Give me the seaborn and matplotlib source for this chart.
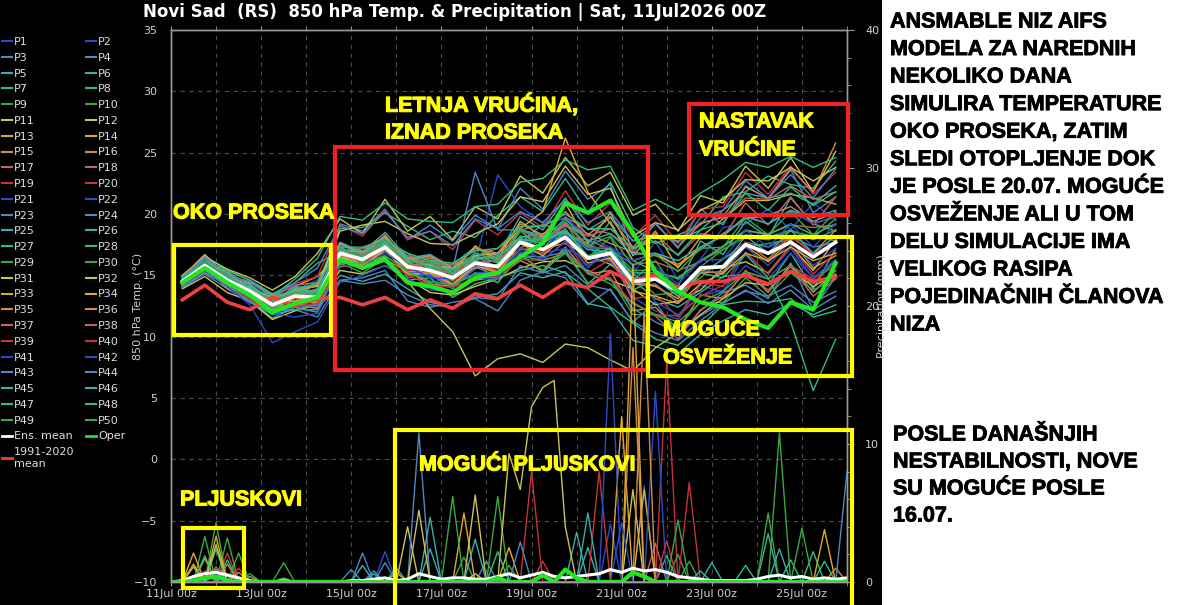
import numpy as np
import pandas as pd
import matplotlib
matplotlib.use("Agg")
import matplotlib.pyplot as plt
import matplotlib.dates as mdates
import matplotlib.patheffects as pe
from matplotlib.lines import Line2D
from matplotlib.patches import Rectangle
from matplotlib.ticker import MultipleLocator
import seaborn as sns

TITLE = "Novi Sad  (RS)  850 hPa Temp. & Precipitation | Sat, 11Jul2026 00Z"

# 850 hPa temperature every 12 h (11Jul 06z .. 25Jul 18z)
temp_times = pd.date_range("2026-07-11 06:00", periods=30, freq="12h")
# precipitation every 6 h (11Jul 00z .. 26Jul 00z)
precip_times = pd.date_range("2026-07-11 00:00", periods=61, freq="6h")

ens_mean = [14.5, 15.8, 14.6, 13.7, 12.6, 13.3, 13.2,
            16.8, 16.3, 17.3, 15.7, 15.4, 14.8, 16.0, 15.7,
            17.7, 17.1, 18.1, 16.4, 16.8,
            14.5, 14.7, 13.7, 15.6, 15.7, 17.5, 16.8, 17.7, 16.5, 17.7]
oper = [14.4, 15.6, 14.4, 13.4, 12.0, 12.7, 13.2,
        16.3, 15.6, 16.3, 14.4, 14.1, 13.6, 14.8, 15.2,
        16.5, 17.6, 20.9, 20.1, 21.1,
        18.5, 15.3, 13.7, 12.8, 12.4, 11.4, 10.7, 12.8, 12.2, 16.0]
clim_mean = [13.0, 14.2, 12.8, 12.2, 13.2, 12.5, 13.1,
             13.2, 12.6, 13.2, 12.2, 13.0, 12.3, 13.5, 13.1,
             14.2, 13.2, 14.4, 14.0, 15.3,
             14.5, 15.0, 14.0, 14.5, 14.5, 15.0, 14.3, 15.3, 14.5, 14.9]

# ensemble members P1..P50 (850 hPa temp, degC)
members_temp = [
    [14.9, 16.3, 14.8, 13.2, 11.8, 12.6, 12.4, 16.4, 16.9, 17.6, 15.2, 16.1, 14.2, 15.5, 16.8, 18.9, 16.5, 19.8, 17.9, 16.2, 15.1, 17.8, 14.6, 16.3, 18.9, 19.2, 20.4, 18.7, 20.9, 19.5],
    [14.1, 15.4, 14.2, 13.9, 12.9, 13.8, 14.6, 17.5, 15.8, 16.9, 16.2, 14.3, 15.1, 16.9, 15.2, 17.2, 18.4, 17.9, 15.6, 17.3, 13.2, 12.1, 11.4, 14.2, 13.6, 16.8, 15.1, 17.2, 14.8, 16.1],
    [14.6, 16.1, 15.3, 14.2, 12.4, 13.1, 13.5, 19.2, 18.6, 20.4, 17.9, 19.1, 17.8, 19.9, 18.8, 22.1, 20.4, 23.5, 21.2, 22.4, 16.8, 19.3, 17.2, 20.4, 19.1, 22.3, 21.2, 23.6, 20.1, 21.4],
    [14.0, 15.1, 13.9, 12.8, 12.1, 12.2, 11.6, 14.6, 14.8, 15.4, 12.9, 12.4, 12.8, 13.1, 12.1, 14.6, 15.3, 14.8, 12.6, 13.9, 11.2, 12.8, 10.1, 12.1, 13.6, 14.2, 13.1, 16.0, 12.2, 14.9],
    [14.8, 16.6, 15.4, 14.6, 13.5, 14.4, 16.0, 16.9, 16.1, 17.4, 16.8, 15.4, 15.9, 17.3, 16.1, 17.6, 19.2, 18.4, 17.1, 19.4, 16.2, 15.3, 14.1, 17.8, 16.7, 19.4, 18.1, 21.3, 19.2, 18.6],
    [14.3, 15.5, 14.6, 13.3, 12.6, 13.9, 13.1, 17.3, 16.4, 18.1, 15.1, 15.6, 14.2, 15.2, 14.4, 16.8, 15.2, 17.1, 14.3, 15.9, 14.6, 13.1, 12.4, 13.6, 14.9, 15.1, 14.2, 16.8, 13.9, 17.2],
    [14.5, 15.6, 14.3, 14.1, 12.2, 13.4, 14.3, 18.8, 18.9, 20.1, 19.0, 17.9, 18.6, 18.1, 19.9, 21.4, 20.2, 22.9, 20.1, 22.6, 18.9, 17.6, 18.3, 19.1, 21.4, 21.8, 23.1, 22.4, 22.1, 24.3],
    [14.6, 16.0, 15.2, 13.0, 11.5, 12.4, 12.0, 15.9, 16.3, 16.1, 14.6, 14.8, 13.2, 14.3, 14.8, 15.4, 15.8, 15.2, 13.9, 12.4, 11.1, 9.8, 9.3, 10.8, 12.6, 12.9, 12.8, 13.1, 11.6, 12.1],
    [14.7, 16.2, 14.5, 14.0, 13.1, 12.9, 13.9, 16.6, 16.9, 17.2, 16.5, 15.2, 15.9, 16.2, 15.8, 18.6, 17.1, 19.3, 16.4, 18.1, 14.6, 16.2, 13.5, 15.7, 17.1, 18.1, 17.9, 18.6, 18.2, 17.8],
    [14.2, 15.7, 14.1, 13.6, 12.0, 13.6, 12.7, 16.1, 15.6, 17.5, 14.8, 15.4, 13.9, 16.1, 15.1, 17.2, 18.2, 18.4, 17.6, 16.4, 15.2, 13.4, 13.6, 14.8, 16.4, 17.3, 17.6, 17.9, 18.1, 19.6],
    [15.0, 16.5, 15.5, 14.8, 13.8, 14.9, 16.8, 19.6, 18.4, 21.2, 18.6, 19.8, 17.9, 20.6, 19.6, 23.1, 21.7, 24.6, 22.3, 23.4, 19.9, 20.8, 18.6, 21.5, 20.9, 23.9, 22.1, 24.6, 21.8, 25.1],
    [13.9, 14.9, 13.6, 12.9, 11.4, 12.1, 12.6, 15.4, 15.1, 15.8, 14.7, 13.6, 13.4, 14.1, 14.7, 15.6, 16.1, 16.2, 15.4, 14.6, 13.9, 12.6, 12.9, 13.8, 15.6, 16.1, 15.2, 17.4, 15.4, 17.9],
    [14.9, 16.7, 14.9, 14.4, 13.4, 14.1, 14.9, 16.8, 17.2, 18.1, 16.1, 16.6, 15.2, 17.4, 16.3, 19.4, 18.1, 20.9, 17.6, 20.1, 16.6, 18.6, 15.6, 18.1, 19.6, 21.1, 21.1, 21.6, 21.3, 20.8],
    [14.3, 15.4, 14.7, 13.1, 12.7, 12.9, 13.4, 16.9, 15.9, 17.0, 15.9, 14.9, 14.9, 15.6, 15.9, 17.1, 17.2, 17.6, 16.6, 15.9, 14.4, 14.1, 13.1, 15.4, 15.1, 17.4, 16.1, 17.9, 15.6, 16.6],
    [14.6, 16.2, 14.6, 14.3, 12.6, 13.9, 14.2, 17.6, 16.6, 18.3, 15.9, 16.4, 15.0, 16.2, 16.8, 18.1, 18.4, 19.1, 18.4, 17.6, 16.9, 16.6, 15.9, 17.1, 18.4, 19.6, 19.9, 20.6, 19.4, 20.1],
    [14.2, 15.8, 13.9, 13.5, 11.9, 12.6, 12.3, 15.7, 15.9, 16.3, 15.3, 14.3, 14.1, 14.6, 14.9, 16.2, 15.4, 17.3, 15.1, 15.4, 12.1, 12.4, 10.6, 13.4, 13.1, 15.4, 13.6, 15.9, 13.6, 15.4],
    [14.5, 15.8, 14.9, 13.6, 13.0, 13.2, 13.7, 17.1, 16.1, 17.7, 15.5, 15.9, 14.7, 16.5, 15.7, 17.8, 17.8, 18.2, 17.9, 17.1, 15.9, 16.1, 15.4, 16.1, 17.4, 18.6, 18.4, 19.1, 18.9, 19.1],
    [14.8, 16.0, 15.3, 13.9, 13.2, 14.2, 14.4, 17.0, 17.2, 17.6, 16.6, 16.0, 15.9, 16.6, 17.2, 18.7, 19.1, 19.7, 18.8, 18.4, 17.1, 18.4, 16.6, 18.4, 18.1, 20.9, 19.1, 21.4, 19.1, 21.4],
    [14.4, 15.6, 14.7, 13.3, 12.2, 13.4, 12.9, 16.8, 15.8, 17.4, 15.1, 15.3, 14.0, 15.9, 14.8, 17.3, 16.2, 17.8, 15.2, 16.3, 13.1, 13.4, 11.6, 14.4, 14.1, 16.9, 15.1, 17.4, 15.1, 16.9],
    [14.7, 16.4, 14.9, 14.5, 13.1, 14.3, 14.9, 19.1, 18.2, 20.3, 17.9, 18.6, 17.1, 19.5, 18.3, 20.1, 18.9, 21.9, 19.1, 20.9, 18.1, 19.9, 17.6, 20.4, 20.6, 23.4, 21.6, 23.9, 21.6, 23.4],
    [14.5, 16.1, 14.4, 13.8, 12.4, 13.7, 13.3, 17.2, 16.3, 17.0, 15.7, 14.9, 15.1, 16.0, 23.2, 20.6, 19.3, 19.6, 18.3, 17.2, 15.8, 12.8, 11.8, 13.3, 13.8, 15.8, 14.7, 16.8, 14.8, 16.3],
    [14.1, 15.6, 14.6, 13.1, 12.2, 12.4, 12.5, 16.0, 16.0, 16.6, 15.4, 14.5, 14.3, 15.2, 15.3, 16.9, 16.8, 17.2, 16.3, 16.1, 14.2, 14.3, 12.8, 15.3, 15.2, 17.3, 15.8, 17.8, 15.8, 17.2],
    [14.7, 15.8, 14.9, 14.1, 12.8, 14.1, 13.6, 17.5, 16.7, 18.2, 16.2, 16.5, 15.5, 23.4, 18.7, 18.7, 18.3, 18.6, 17.3, 16.2, 14.3, 14.7, 13.8, 15.2, 16.3, 17.7, 17.3, 18.2, 17.3, 17.7],
    [14.3, 15.9, 14.2, 13.7, 12.3, 13.2, 12.6, 16.6, 15.7, 17.2, 15.0, 15.1, 13.9, 15.7, 14.9, 16.6, 16.5, 16.9, 15.3, 14.7, 12.3, 11.2, 10.3, 11.7, 12.8, 13.7, 13.3, 14.2, 12.8, 13.7],
    [14.8, 16.4, 14.8, 14.3, 12.9, 14.0, 14.2, 17.7, 16.9, 18.5, 16.4, 16.7, 15.6, 17.2, 16.6, 19.8, 18.7, 21.3, 18.7, 19.8, 17.8, 18.2, 17.8, 18.7, 20.3, 21.7, 21.3, 21.7, 20.8, 22.3],
    [14.2, 15.5, 14.5, 12.9, 11.8, 12.2, 12.7, 15.0, 14.5, 15.1, 13.9, 12.8, 12.4, 13.2, 13.5, 15.2, 14.8, 15.3, 12.7, 12.3, 9.7, 9.2, 8.6, 10.2, 11.3, 12.2, 11.8, 12.7, 11.8, 12.6],
    [14.6, 16.0, 14.4, 13.9, 12.5, 13.6, 13.4, 17.2, 16.4, 17.8, 15.8, 15.9, 14.8, 16.6, 16.0, 18.2, 17.9, 18.6, 17.1, 16.9, 15.2, 15.2, 14.8, 16.2, 17.3, 18.7, 18.3, 19.2, 18.3, 19.2],
    [14.9, 16.2, 15.4, 14.6, 13.3, 14.7, 16.4, 19.8, 19.5, 20.9, 19.6, 19.4, 19.3, 20.6, 20.8, 22.6, 22.9, 24.4, 23.6, 23.9, 20.3, 21.2, 20.3, 21.7, 22.8, 24.2, 23.8, 24.7, 23.8, 24.6],
    [14.0, 15.3, 14.3, 12.9, 12.2, 12.4, 12.0, 16.0, 15.2, 16.4, 14.4, 14.4, 13.4, 15.2, 14.4, 16.6, 15.4, 16.8, 14.4, 14.7, 11.8, 11.8, 10.8, 12.8, 12.8, 14.8, 13.3, 15.2, 13.8, 14.8],
    [14.7, 15.9, 15.0, 13.7, 13.1, 13.4, 13.9, 16.9, 16.9, 17.5, 16.3, 15.6, 15.4, 16.3, 16.5, 17.9, 17.8, 18.5, 17.2, 17.2, 15.4, 15.4, 14.7, 16.2, 17.1, 18.3, 18.1, 18.7, 17.9, 18.7],
    [14.4, 15.7, 14.5, 13.6, 12.6, 13.2, 13.2, 16.5, 16.0, 16.5, 14.5, 12.3, 10.4, 6.8, 8.2, 8.6, 7.9, 9.4, 9.1, 8.1, 7.2, 9.1, 10.3, 11.8, 13.1, 14.4, 14.2, 15.4, 14.1, 15.1],
    [14.6, 16.2, 14.6, 14.0, 12.6, 13.8, 14.1, 18.6, 19.1, 19.4, 18.4, 17.6, 17.5, 18.4, 19.2, 21.4, 21.0, 23.9, 21.6, 22.1, 18.2, 19.3, 18.7, 20.3, 21.2, 22.8, 22.7, 23.8, 22.7, 23.8],
    [14.2, 15.7, 14.1, 13.6, 12.1, 13.2, 12.7, 16.5, 15.7, 17.1, 15.1, 15.2, 14.2, 15.8, 15.2, 17.6, 16.6, 18.2, 16.0, 16.4, 13.7, 13.3, 12.7, 14.3, 15.2, 16.8, 16.2, 17.3, 16.2, 16.8],
    [14.5, 16.1, 14.8, 13.6, 12.9, 13.5, 13.8, 16.9, 17.0, 17.6, 16.4, 15.8, 15.6, 16.6, 16.8, 18.8, 20.2, 26.2, 21.8, 19.2, 16.2, 16.8, 15.7, 17.3, 18.2, 19.8, 19.2, 20.3, 19.2, 19.8],
    [14.7, 16.0, 15.2, 13.8, 13.2, 13.6, 14.2, 17.6, 16.8, 18.2, 16.3, 16.6, 15.6, 17.2, 16.8, 19.2, 18.3, 20.2, 18.3, 19.7, 17.3, 19.2, 17.3, 19.2, 19.8, 22.2, 21.3, 23.7, 21.8, 25.8],
    [14.3, 15.8, 14.2, 13.7, 12.3, 13.4, 12.8, 16.7, 15.8, 17.2, 15.3, 15.4, 14.3, 16.0, 15.3, 17.7, 16.8, 18.4, 16.3, 17.0, 14.3, 14.2, 12.8, 15.2, 15.3, 17.7, 16.3, 18.2, 16.8, 18.7],
    [14.6, 15.9, 14.9, 13.6, 13.0, 13.3, 13.7, 17.2, 16.4, 17.8, 15.8, 16.0, 15.0, 16.8, 16.2, 18.7, 17.8, 19.2, 17.3, 17.2, 12.8, 11.7, 9.8, 12.2, 13.3, 15.2, 13.8, 15.7, 13.3, 14.7],
    [14.4, 15.9, 14.4, 13.8, 12.4, 13.6, 13.2, 16.6, 16.6, 17.2, 16.0, 15.4, 15.2, 16.0, 16.2, 17.8, 18.0, 19.0, 18.2, 18.8, 17.2, 18.3, 17.7, 19.3, 19.7, 21.3, 21.2, 22.3, 21.2, 21.8],
    [14.5, 16.0, 14.5, 13.4, 12.8, 13.1, 13.4, 16.9, 16.0, 17.4, 15.4, 15.5, 14.5, 16.1, 15.4, 17.7, 16.8, 18.2, 16.3, 16.7, 14.3, 15.2, 13.8, 15.7, 15.8, 17.7, 16.8, 18.2, 16.7, 17.8],
    [14.2, 15.4, 14.3, 13.0, 12.2, 12.5, 12.7, 15.8, 15.7, 16.2, 15.0, 14.2, 14.0, 14.8, 14.9, 16.3, 16.2, 16.8, 15.2, 14.8, 12.7, 11.8, 11.7, 13.3, 14.2, 15.3, 14.7, 15.8, 14.7, 15.8],
    [14.6, 16.2, 14.7, 13.4, 11.9, 11.6, 11.9, 15.8, 15.7, 16.8, 15.7, 14.8, 14.7, 15.8, 15.7, 17.8, 17.7, 18.3, 17.2, 17.3, 16.2, 16.8, 16.2, 17.3, 18.2, 19.8, 19.2, 20.3, 19.2, 19.8],
    [14.3, 15.5, 14.1, 12.6, 9.5, 10.4, 11.2, 14.4, 15.0, 15.8, 14.7, 13.8, 13.7, 14.8, 14.7, 17.2, 16.3, 17.7, 15.8, 16.7, 14.3, 15.7, 14.3, 16.2, 16.3, 18.7, 17.3, 19.2, 17.3, 19.2],
    [14.8, 16.5, 15.0, 14.5, 13.2, 14.4, 15.6, 19.0, 18.4, 20.2, 18.1, 18.6, 17.4, 19.6, 18.8, 20.2, 19.3, 21.2, 19.3, 20.2, 17.8, 19.2, 17.3, 19.7, 20.3, 22.7, 21.3, 23.2, 21.3, 23.7],
    [14.1, 15.2, 14.2, 12.8, 12.1, 12.2, 12.2, 14.6, 14.3, 14.6, 13.4, 12.6, 12.4, 13.2, 13.0, 15.8, 15.2, 15.8, 14.2, 13.8, 11.2, 10.3, 9.7, 11.3, 12.7, 13.8, 12.7, 13.8, 12.2, 13.3],
    [14.5, 15.8, 14.9, 13.5, 12.9, 13.3, 13.8, 17.2, 16.5, 17.8, 16.0, 16.2, 15.2, 16.8, 16.2, 18.8, 18.0, 19.6, 17.8, 18.4, 16.7, 16.8, 16.2, 17.3, 18.2, 19.8, 19.2, 20.3, 19.7, 20.3],
    [14.6, 16.1, 14.6, 14.1, 12.7, 13.9, 13.6, 17.0, 17.0, 17.6, 16.4, 15.7, 15.5, 16.4, 16.5, 18.0, 17.6, 18.8, 16.4, 17.2, 14.8, 14.7, 13.3, 15.7, 15.8, 18.2, 16.8, 18.7, 16.8, 18.2],
    [14.4, 15.9, 14.3, 13.7, 12.2, 13.4, 13.1, 16.9, 16.1, 17.5, 15.5, 15.6, 14.6, 16.2, 15.6, 18.0, 17.0, 18.6, 16.6, 17.2, 13.8, 14.7, 13.3, 15.2, 14.8, 16.7, 14.8, 11.2, 5.6, 9.8],
    [14.7, 16.1, 15.2, 13.9, 13.3, 13.7, 14.4, 17.3, 17.3, 17.9, 16.8, 16.2, 16.0, 17.0, 17.2, 19.0, 19.0, 20.0, 18.8, 18.8, 17.2, 17.8, 16.7, 18.7, 19.3, 21.7, 20.3, 22.2, 20.7, 21.8],
    [14.3, 15.6, 14.4, 13.2, 12.3, 12.7, 13.0, 16.0, 16.0, 16.6, 15.3, 14.5, 14.2, 15.1, 15.2, 16.6, 16.2, 16.8, 15.2, 14.3, 12.7, 11.8, 11.2, 12.8, 13.7, 15.3, 14.7, 15.8, 14.3, 16.2],
    [14.6, 16.1, 14.8, 13.6, 12.9, 13.6, 13.5, 17.2, 16.5, 17.9, 16.0, 16.1, 15.1, 16.8, 16.2, 18.8, 17.8, 19.4, 17.4, 18.2, 15.8, 16.7, 15.3, 17.2, 17.3, 19.7, 18.3, 20.2, 18.3, 20.2],
]

# 6-hourly precipitation of the ensemble mean and the operational run (mm)
precip_mean = [0.0, 0.1, 0.4, 0.6, 0.7, 0.5, 0.3, 0.1, 0.0, 0.0,
               0.1, 0.0, 0.0, 0.0, 0.0, 0.0, 0.1, 0.1, 0.2, 0.3,
               0.1, 0.2, 0.6, 0.4, 0.2, 0.3, 0.3, 0.2, 0.2, 0.4,
               0.6, 0.3, 0.5, 0.7, 0.4, 0.3, 0.4, 0.5, 0.6, 0.9,
               0.7, 1.0, 0.8, 0.9, 0.7, 0.4, 0.3, 0.2, 0.1, 0.1,
               0.1, 0.1, 0.2, 0.4, 0.5, 0.3, 0.4, 0.2, 0.3, 0.2, 0.3]
precip_oper = [0.0, 0.0, 0.1, 0.3, 0.4, 0.1, 0.0, 0.0, 0.0, 0.0,
               0.0, 0.0, 0.0, 0.0, 0.0, 0.0, 0.0, 0.0, 0.0, 0.0,
               0.0, 0.0, 0.0, 0.0, 0.0, 0.0, 0.0, 0.0, 0.0, 0.3,
               0.0, 0.0, 0.0, 0.5, 0.0, 0.9, 0.3, 0.0, 0.0, 0.0,
               0.0, 0.7, 0.4, 0.0, 0.0, 0.0, 0.0, 0.0, 0.0, 0.0,
               0.0, 0.0, 0.0, 0.0, 0.0, 0.0, 0.0, 0.0, 0.0, 0.0, 0.0]

# member precipitation: (member, 6h step, mm); every other step is 0 mm
precip_events = [
    (13, 2, 2.1), (14, 2, 1.3), (12, 2, 1.1), (9, 3, 3.3), (15, 3, 1.7), (47, 3, 1.9),
    (5, 3, 0.7), (39, 3, 0.8), (29, 4, 4.3), (33, 4, 3.3), (27, 4, 2.4), (31, 4, 2.7),
    (17, 4, 1.1), (25, 4, 0.9), (21, 4, 0.5), (10, 5, 3.2), (19, 5, 2.1), (7, 5, 1.6),
    (35, 5, 1.3), (45, 5, 0.6), (1, 5, 0.5), (49, 6, 2.1), (20, 6, 1.0), (36, 6, 0.7),
    (30, 7, 0.6), (16, 7, 0.4), (9, 10, 1.4), (29, 10, 0.3),
    (23, 16, 0.9), (3, 17, 2.1), (25, 17, 1.2), (44, 18, 0.8), (1, 19, 2.2), (43, 19, 1.4),
    (28, 18, 0.6), (5, 20, 1.0), (13, 20, 0.7),
    (12, 21, 4.0), (23, 22, 10.8), (31, 22, 5.2), (25, 23, 4.7), (6, 23, 2.4), (29, 25, 6.2),
    (13, 26, 5.0), (9, 26, 1.8), (32, 27, 6.3), (45, 27, 3.1), (11, 27, 0.6), (9, 29, 6.2),
    (27, 29, 2.2), (3, 28, 1.5), (11, 30, 9.3), (14, 30, 2.5), (11, 31, 6.7), (11, 32, 12.7),
    (11, 33, 14.1), (11, 34, 14.6), (11, 35, 4.0), (20, 32, 8.0), (19, 33, 1.5), (24, 31, 2.9),
    (50, 30, 1.2),
    (45, 37, 5.0), (39, 38, 8.0), (26, 37, 2.5), (5, 36, 3.6), (41, 39, 18.0), (1, 39, 4.2),
    (14, 40, 12.0), (42, 40, 4.3), (33, 41, 23.0), (12, 41, 6.7), (15, 41, 17.0), (2, 42, 7.0),
    (35, 42, 19.5), (13, 42, 6.7), (22, 43, 13.8), (19, 44, 16.0), (40, 44, 3.0), (50, 45, 4.5),
    (29, 45, 2.0), (40, 46, 7.2), (9, 46, 1.5), (18, 43, 2.8), (6, 44, 1.9), (26, 48, 1.4),
    (46, 47, 0.8),
    (8, 51, 1.2), (10, 53, 5.0), (30, 54, 10.8), (5, 53, 3.5), (25, 54, 2.4), (49, 56, 3.9),
    (47, 55, 1.6), (34, 58, 3.8), (7, 57, 2.2), (43, 60, 8.0), (36, 59, 1.0), (48, 58, 1.5),
]

# colour cycle of the members (two members per colour, repeats every 20)
member_cycle = ["#2b4cc9", "#4f86c6", "#3bb0a8", "#2fbf7f", "#3aa845",
                "#c9c35a", "#e0a92c", "#d08a4e", "#c0666a", "#c8323c"]

right_text_1 = ["ANSMABLE NIZ AIFS", "MODELA ZA NAREDNIH", "NEKOLIKO DANA",
                "SIMULIRA TEMPERATURE", "OKO PROSEKA, ZATIM", "SLEDI OTOPLJENJE DOK",
                "JE POSLE 20.07. MOGUĆE", "OSVEŽENJE ALI U TOM", "DELU SIMULACIJE IMA",
                "VELIKOG RASIPA", "POJEDINAČNIH ČLANOVA", "NIZA"]
right_text_2 = ["POSLE DANAŠNJIH", "NESTABILNOSTI, NOVE", "SU MOGUĆE POSLE", "16.07."]

n_members = len(members_temp)
member_labels = [f"P{i + 1}" for i in range(n_members)]
member_colors = [member_cycle[(i % 20) // 2] for i in range(n_members)]

temp_long = pd.DataFrame({
    "time": np.tile(temp_times, n_members),
    "temp": np.concatenate(members_temp),
    "member": np.repeat(member_labels, len(temp_times)),
})
precip_grid = np.zeros((n_members, len(precip_times)))
for m, step, mm in precip_events:
    precip_grid[m - 1, step] = mm
precip_long = pd.DataFrame({
    "time": np.tile(precip_times, n_members),
    "precip": precip_grid.ravel(),
    "member": np.repeat(member_labels, len(precip_times)),
})

plt.rcParams["font.family"] = ["DejaVu Sans"]
W, H = 1200, 605


def fx(px):
    return px / W


def fy(py):
    return 1 - py / H


fig = plt.figure(figsize=(12, 6.05), dpi=100, facecolor="white")
fig.patches.append(Rectangle((0, 0), fx(882), 1, transform=fig.transFigure,
                             facecolor="black", edgecolor="none", zorder=-10))

ax = fig.add_axes([fx(171), fy(582), fx(847) - fx(171), fy(30) - fy(582)])
ax.set_facecolor("black")
ax2 = ax.twinx()

# temperature
sns.lineplot(data=temp_long, x="time", y="temp", hue="member", hue_order=member_labels,
             palette=member_colors, linewidth=1.0, estimator=None, legend=False, ax=ax)
sns.lineplot(x=temp_times, y=clim_mean, color="#ee4040", linewidth=2.6, ax=ax)
sns.lineplot(x=temp_times, y=ens_mean, color="white", linewidth=2.6, ax=ax)
sns.lineplot(x=temp_times, y=oper, color="#22e622", linewidth=3.0, ax=ax)

# precipitation
sns.lineplot(data=precip_long, x="time", y="precip", hue="member", hue_order=member_labels,
             palette=member_colors, linewidth=1.0, estimator=None, legend=False, ax=ax2)
sns.lineplot(x=precip_times, y=precip_mean, color="white", linewidth=2.2, ax=ax2)
sns.lineplot(x=precip_times, y=precip_oper, color="#22e622", linewidth=3.0, ax=ax2)

ax.set_xlim(pd.Timestamp("2026-07-11 00:00"), pd.Timestamp("2026-07-26 00:00"))
ax.set_ylim(-10, 35)
ax.set_yticks(range(-10, 36, 5))
ax2.set_ylim(0, 40)
ax2.set_yticks(range(0, 41, 10))
ax2.yaxis.set_minor_locator(MultipleLocator(2))

ax.xaxis.set_major_locator(mdates.DayLocator(bymonthday=range(1, 32, 2)))
ax.xaxis.set_minor_locator(mdates.DayLocator())
ax.xaxis.set_major_formatter(mdates.DateFormatter("%d%b %Hz"))

grid_kw = dict(color="#4a4a4a", linestyle=(0, (4, 4)), linewidth=0.8)
ax.grid(True, which="both", axis="x", **grid_kw)
ax.grid(True, which="major", axis="y", **grid_kw)
ax.set_axisbelow(True)

for a in (ax, ax2):
    for sp in a.spines.values():
        sp.set_color("#9a9a9a")
        sp.set_linewidth(1.0)
ax.tick_params(axis="x", which="both", colors="#9a9a9a", labelcolor="#cfcfcf",
               labelsize=8, length=3, top=True, pad=2)
ax.tick_params(axis="y", colors="#9a9a9a", labelcolor="#cfcfcf", labelsize=8, length=0, pad=10)
ax2.tick_params(axis="y", which="major", colors="#9a9a9a", labelcolor="#cfcfcf", labelsize=8, length=5, pad=8)
ax2.tick_params(axis="y", which="minor", colors="#9a9a9a", length=3)

ax.set_xlabel("")
ax.set_ylabel("850 hPa Temp. (°C)", color="#cfcfcf", fontsize=8)
ax.yaxis.set_label_coords((143 - 171) / 676, 0.5)
ax2.set_ylabel("Precipitation (mm)", color="#cfcfcf", fontsize=8)
ax2.yaxis.set_label_coords((877 - 171) / 676, 0.5)

fig.text(fx(455), fy(12), TITLE, color="white", fontsize=12, fontweight="bold",
         ha="center", va="center")

# legend, filled row by row: odd members left, even members right
col1 = [Line2D([], [], color=member_colors[i], lw=1.5) for i in range(0, n_members, 2)]
col2 = [Line2D([], [], color=member_colors[i], lw=1.5) for i in range(1, n_members, 2)]
lab1 = member_labels[0::2] + ["Ens. mean", "1991-2020\nmean"]
lab2 = member_labels[1::2] + ["Oper", ""]
col1 += [Line2D([], [], color="white", lw=2), Line2D([], [], color="#ee4040", lw=2)]
col2 += [Line2D([], [], color="#22e622", lw=2), Line2D([], [], color="none")]
fig.legend(col1 + col2, lab1 + lab2, ncol=2, loc="upper left",
           bbox_to_anchor=(fx(2), fy(37)), frameon=False, fontsize=8,
           labelcolor="#dddddd", handlelength=0.9, handletextpad=0.15,
           columnspacing=1.1, labelspacing=0.52, borderaxespad=0, borderpad=0)

# annotation boxes and captions
ann_font = dict(family="Liberation Sans", fontweight="bold", fontsize=15.5)
boxes = [((174, 245, 331, 335), "#ffff00"), ((335, 147, 648, 370), "#ee2222"),
         ((689, 104, 848, 215), "#ee2222"), ((648, 237, 852, 376), "#ffff00"),
         ((395, 430, 852, 620), "#ffff00"), ((183, 528, 244, 588), "#ffff00")]
for (x0, y0, x1, y1), col in boxes:
    fig.patches.append(Rectangle((fx(x0), fy(y1)), fx(x1) - fx(x0), fy(y0) - fy(y1),
                                 transform=fig.transFigure, fill=False,
                                 edgecolor=col, linewidth=3.0, zorder=20))
captions = [(173, 213, "OKO PROSEKA"), (385, 105, "LETNJA VRUĆINA,"), (385, 133, "IZNAD PROSEKA"),
            (699, 122, "NASTAVAK"), (699, 150, "VRUĆINE"), (663, 330, "MOGUĆE"),
            (663, 358, "OSVEŽENJE"), (419, 465, "MOGUĆI PLJUSKOVI"), (180, 500, "PLJUSKOVI")]
for x, y, s in captions:
    fig.text(fx(x), fy(y), s, color="#ffff00", ha="left", va="center", zorder=21,
             path_effects=[pe.withStroke(linewidth=0.8, foreground="#ffff00")], **ann_font)

for i, s in enumerate(right_text_1):
    fig.text(fx(890), fy(22 + 27.55 * i), s, color="black", ha="left", va="center",
             path_effects=[pe.withStroke(linewidth=0.6, foreground="black")], **ann_font)
for i, s in enumerate(right_text_2):
    fig.text(fx(893), fy(435 + 27.0 * i), s, color="black", ha="left", va="center",
             path_effects=[pe.withStroke(linewidth=0.6, foreground="black")], **ann_font)

fig.savefig("out.png", dpi=100, facecolor=fig.get_facecolor())
